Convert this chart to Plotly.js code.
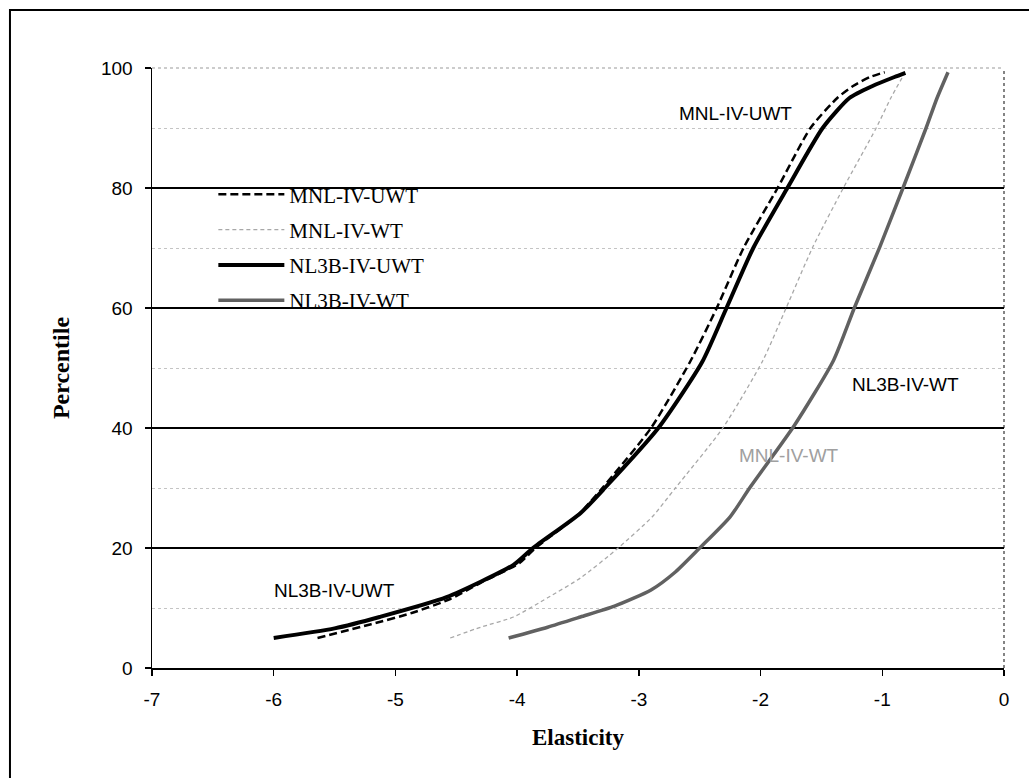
<!DOCTYPE html>
<html>
<head>
<meta charset="utf-8">
<script src="https://cdn.plot.ly/plotly-3.0.1.min.js"></script>
<style>html,body{margin:0;padding:0;background:#fff;}#chart{width:1029px;height:778px;}</style>
</head>
<body>
<div id="chart"></div>
<script>
// Series data (elasticity, percentile)
const mnlUwtX = [-5.64, -5.20, -4.86, -4.55, -4.30, -3.98, -3.85, -3.50, -3.30, -2.90, -2.58, -2.36, -2.14, -1.86, -1.59, -1.37, -1.24, -1.10, -0.98];
const mnlUwtY = [5, 7.3, 9.2, 11.5, 14.2, 17.5, 20, 25.5, 30, 40, 51, 60, 70, 80, 90, 95, 97, 98.5, 99.3];

const mnlWtX = [-4.55, -4.30, -4.03, -3.75, -3.48, -3.17, -2.89, -2.70, -2.31, -1.98, -1.79, -1.57, -1.32, -1.05, -0.93, -0.82];
const mnlWtY = [5, 6.8, 8.5, 11.7, 15, 20, 25.2, 30, 40, 51.3, 60, 70.2, 80, 90, 95, 99];

const nl3bUwtX = [-6.00, -5.50, -5.13, -4.58, -4.03, -3.87, -3.48, -3.28, -2.84, -2.48, -2.28, -2.06, -1.78, -1.49, -1.27, -1.08, -0.90, -0.81];
const nl3bUwtY = [5, 6.6, 8.5, 11.8, 17.2, 20, 25.8, 30, 40, 51, 60, 70, 80, 90, 95, 97, 98.5, 99.2];

const nl3bWtX = [-4.07, -3.75, -3.48, -3.20, -2.90, -2.70, -2.50, -2.25, -2.09, -1.72, -1.40, -1.23, -1.02, -0.83, -0.64, -0.55, -0.46];
const nl3bWtY = [5, 6.8, 8.5, 10.3, 13, 16, 20, 25.2, 30, 40.5, 51.3, 60, 70.2, 80, 90, 95, 99.3];

const seriesNames = ["MNL-IV-UWT", "MNL-IV-WT", "NL3B-IV-UWT", "NL3B-IV-WT"];
const xTicks = [-7, -6, -5, -4, -3, -2, -1, 0];
const yTicks = [0, 20, 40, 60, 80, 100];

// Curve labels: [text, x, y]
const labelTexts = ["MNL-IV-UWT", "NL3B-IV-WT", "MNL-IV-WT", "NL3B-IV-UWT"];
const labelX = [-2.21, -0.81, -1.77, -5.50];
const labelY = [92.5, 47.2, 35.5, 13];

const traces = [
  {x: mnlUwtX, y: mnlUwtY, name: seriesNames[0], legendgroup: 'a', mode: 'lines', line: {color: '#000', width: 2.5, dash: '8px,4px', shape: 'spline', smoothing: 0.6}},
  {x: mnlWtX, y: mnlWtY, name: seriesNames[1], legendgroup: 'b', mode: 'lines', line: {color: '#a8a8a8', width: 1.3, dash: '4px,3px', shape: 'spline', smoothing: 0.6}},
  {x: nl3bUwtX, y: nl3bUwtY, name: seriesNames[2], legendgroup: 'c', mode: 'lines', line: {color: '#000', width: 4, shape: 'spline', smoothing: 0.6}},
  {x: nl3bWtX, y: nl3bWtY, name: seriesNames[3], legendgroup: 'd', mode: 'lines', line: {color: '#616161', width: 3.5, shape: 'spline', smoothing: 0.6}}
];

const annColors = ['#000', '#000', '#a0a0a0', '#000'];
const annotations = labelTexts.map((t, i) => ({
  text: t, x: labelX[i], y: labelY[i], xref: 'x', yref: 'y', showarrow: false,
  font: {family: 'Liberation Sans, Arial, sans-serif', size: 19, color: annColors[i]}
}));

const layout = {
  width: 1029, height: 778,
  margin: {l: 152, r: 25, t: 68, b: 110, pad: 0},
  paper_bgcolor: '#fff', plot_bgcolor: '#fff',
  showlegend: true,
  legend: {
    x: 0.072, y: 0.823, xanchor: 'left', yanchor: 'top',
    bgcolor: 'rgba(0,0,0,0)', borderwidth: 0,
    font: {family: 'Liberation Serif, Times New Roman, serif', size: 21, color: '#000'},
    traceorder: 'grouped', tracegroupgap: 5, itemwidth: 66
  },
  xaxis: {
    range: [-7, 0], tickvals: xTicks, ticktext: xTicks.map(String),
    showline: true, linecolor: '#000', linewidth: 1.5,
    ticks: 'outside', ticklen: 6, tickcolor: '#000', tickwidth: 1.5,
    ticklabelstandoff: 8,
    showgrid: false, zeroline: false,
    tickfont: {family: 'Liberation Sans, Arial, sans-serif', size: 19, color: '#000'},
    title: {text: '<b>Elasticity</b>', font: {family: 'Liberation Serif, Times New Roman, serif', size: 23, color: '#000'}, standoff: 19}
  },
  yaxis: {
    range: [0, 100], tickvals: yTicks, ticktext: yTicks.map(String),
    showline: true, linecolor: '#000', linewidth: 1.5,
    ticks: 'outside', ticklen: 6, tickcolor: '#000', tickwidth: 1.5,
    ticklabelstandoff: 8,
    showgrid: true, gridcolor: '#000', gridwidth: 1.5, zeroline: false,
    minor: {dtick: 10, showgrid: true, gridcolor: '#c4c4c4', griddash: 'dot', gridwidth: 1, ticks: ''},
    tickfont: {family: 'Liberation Sans, Arial, sans-serif', size: 19, color: '#000'},
    title: {text: '<b>Percentile</b>', font: {family: 'Liberation Serif, Times New Roman, serif', size: 24, color: '#000'}, standoff: 24}
  },
  shapes: [
    {type: 'rect', xref: 'paper', yref: 'paper', x0: -0.1667, x1: 1.06, y0: -0.21, y1: 1.0967, line: {color: '#000', width: 2}, layer: 'below'},
    {type: 'line', xref: 'paper', yref: 'paper', x0: 0.002, x1: 1, y0: 1, y1: 1, line: {color: '#fff', width: 3}, layer: 'between'},
    {type: 'line', xref: 'paper', yref: 'paper', x0: 0, x1: 1, y0: 1, y1: 1, line: {color: '#9a9a9a', width: 1.2, dash: 'dot'}, layer: 'between'},
    {type: 'line', xref: 'paper', yref: 'paper', x0: 1, x1: 1, y0: 0, y1: 1, line: {color: '#333', width: 1.2, dash: 'dot'}, layer: 'between'}
  ],
  annotations: annotations
};

Plotly.newPlot('chart', traces, layout, {displayModeBar: false, staticPlot: true});
</script>
</body>
</html>
